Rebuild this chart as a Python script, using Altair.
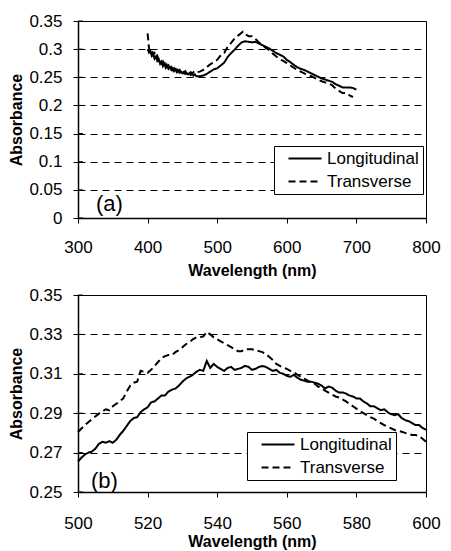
import altair as alt
import pandas as pd

series_names = ["Longitudinal", "Transverse"]

# ---- panel (a) ----
a_long_wl = [400,402,404,406,408,410,412,414,416,418,420,422,424,426,428,430,432,434,436,438,440,442,444,446,448,450,452,454,456,458,460,462,464,466,468,470,475,480,485,490,495,500,505,510,515,520,525,530,535,540,545,550,555,560,565,570,575,580,585,590,595,600,605,610,615,620,625,630,635,640,645,650,655,660,665,670,675,680,685,690,695,700]
a_long_ab = [.300,.294,.297,.288,.291,.283,.287,.279,.282,.274,.278,.270,.274,.267,.271,.265,.268,.263,.266,.261,.264,.259,.262,.258,.260,.257,.259,.256,.258,.255,.257,.254,.256,.253,.255,.252,.252,.253,.256,.260,.264,.266,.271,.276,.286,.293,.299,.306,.312,.314,.313,.312,.313,.310,.307,.304,.301,.297,.293,.290,.287,.281,.277,.272,.268,.265,.263,.260,.257,.254,.251,.248,.246,.244,.242,.238,.235,.232,.232,.232,.231,.228]
a_trans_wl = [400,401,402,404,406,408,410,412,414,416,418,420,422,424,426,428,430,432,434,436,438,440,442,444,446,448,450,452,454,456,458,460,462,464,466,468,470,475,480,485,490,495,500,505,510,515,520,525,530,535,537,540,545,550,555,560,565,570,575,580,585,590,595,600,605,610,615,620,625,630,635,640,645,650,655,660,665,670,675,680,685,690,695]
a_trans_ab = [.328,.315,.302,.296,.299,.290,.293,.285,.288,.280,.283,.275,.278,.271,.274,.268,.271,.265,.268,.263,.266,.261,.264,.260,.263,.259,.262,.258,.261,.257,.260,.257,.259,.256,.259,.257,.259,.260,.263,.268,.273,.277,.281,.289,.293,.304,.311,.319,.324,.329,.331,.327,.323,.323,.318,.312,.307,.302,.298,.292,.287,.282,.279,.275,.271,.267,.263,.260,.257,.254,.252,.249,.246,.243,.241,.239,.236,.230,.226,.222,.222,.218,.215]

# ---- panel (b) ----
b_long_wl = list(range(500, 601))
b_long_ab = [.2655,.2675,.2690,.2700,.2705,.2720,.2745,.2755,.2750,.2758,.2750,.2765,.2790,.2810,.2835,.2860,.2875,.2880,.2905,.2920,
             .2930,.2955,.2960,.2975,.2990,.2990,.3010,.3020,.3025,.3040,.3060,.3075,.3085,.3095,.3110,.3120,.3115,.3165,.3130,.3150,
             .3135,.3125,.3115,.3130,.3135,.3120,.3125,.3130,.3140,.3135,.3120,.3125,.3135,.3140,.3135,.3125,.3115,.3120,.3105,.3100,
             .3090,.3085,.3095,.3080,.3070,.3065,.3060,.3060,.3055,.3050,.3040,.3025,.3035,.3030,.3015,.3005,.3005,.3000,.2990,.2985,
             .2975,.2975,.2960,.2950,.2935,.2935,.2925,.2915,.2920,.2905,.2895,.2890,.2895,.2875,.2865,.2860,.2850,.2840,.2840,.2825,.2815]
b_trans_wl = [500,502,504,506,508,509,510,512,513,514,515,516,517,518,519,520,521,522,523,524,525,526,527,528,529,530,531,532,533,534,535,536,537,538,539,540,
              541,542,543,544,545,546,547,548,549,550,551,552,553,554,555,556,557,558,559,560,561,562,563,564,565,566,567,568,569,570,
              571,572,573,574,575,576,577,578,579,580,581,582,583,584,585,586,587,588,589,590,591,592,593,594,595,596,597,598,599,600]
b_trans_ab = [.2805,.2840,.2870,.2898,.2920,.2915,.2935,.2960,.2975,.3010,.3040,.3055,.3060,.3115,.3110,.3105,.3120,.3140,.3160,.3180,.3190,.3195,.3195,.3210,.3220,.3235,.3250,.3260,.3275,.3285,.3285,.3290,.3313,.3300,.3285,.3275,
              .3265,.3255,.3245,.3235,.3225,.3215,.3215,.3225,.3225,.3225,.3220,.3215,.3210,.3200,.3185,.3170,.3150,.3140,.3130,.3125,.3115,.3110,.3095,.3085,.3075,.3065,.3055,.3050,.3035,.3025,
              .3015,.3005,.2995,.2985,.2980,.2970,.2960,.2948,.2935,.2923,.2910,.2900,.2890,.2880,.2873,.2860,.2850,.2840,.2830,.2823,.2815,.2810,.2806,.2800,.2795,.2789,.2789,.2785,.2770,.2755]

a_xticks = [300, 400, 500, 600, 700, 800]
a_yticks = [0, 0.05, 0.1, 0.15, 0.2, 0.25, 0.3, 0.35]
b_xticks = [500, 520, 540, 560, 580, 600]
b_yticks = [0.25, 0.27, 0.29, 0.31, 0.33, 0.35]

FONT = "Liberation Sans"
W, H = 348, 197


def make_df(lwl, lab, twl, tab):
    rows = [{"wl": w, "abs": v, "series": series_names[0], "order": i} for i, (w, v) in enumerate(zip(lwl, lab))]
    rows += [{"wl": w, "abs": v, "series": series_names[1], "order": i} for i, (w, v) in enumerate(zip(twl, tab))]
    return pd.DataFrame(rows)


def panel(df, xdom, xticks, ydom, yticks, label, label_pos, lx, ly, pad_spaces, xlabpad, xtitlepad):
    xs = alt.Scale(domain=xdom, nice=False, zero=False)
    ys = alt.Scale(domain=ydom, nice=False, zero=False)
    xax = alt.Axis(values=xticks, grid=False, labelFlush=False, labelOverlap=False, title="Wavelength (nm)",
                   labelPadding=xlabpad, titlePadding=xtitlepad)
    yax = alt.Axis(values=yticks, format="~g", grid=True, labelFlush=False, labelOverlap=False, title="Absorbance")
    leg_kwargs = dict(
        title=None, orient="none", legendX=lx, legendY=ly,
        strokeColor="black", fillColor="white", padding=4, cornerRadius=0,
        labelFont=FONT, labelFontSize=17, labelColor="black", labelOffset=13.5,
        symbolType="M-2.75,0H2.75", symbolSize=144, symbolStrokeWidth=2,
        symbolStrokeColor="black", symbolFillColor="transparent", rowPadding=5, symbolOffset=18.5,
    )
    if pad_spaces:
        leg_kwargs["labelExpr"] = "datum.label + '" + "\u00a0" * pad_spaces + "'"
    lines = alt.Chart(df).mark_line(color="black", strokeWidth=2).encode(
        x=alt.X("wl:Q", scale=xs, axis=xax),
        y=alt.Y("abs:Q", scale=ys, axis=yax),
        strokeDash=alt.StrokeDash(
            "series:N",
            scale=alt.Scale(domain=series_names, range=[[1, 0], [7, 4]]),
            legend=alt.Legend(**leg_kwargs),
        ),
        order="order:Q",
    )
    tick_df = pd.DataFrame({"abs": yticks})
    inner_ticks = alt.Chart(tick_df).mark_rule(color="black", strokeWidth=1).encode(
        x=alt.value(0), x2=alt.value(5), y=alt.Y("abs:Q", scale=ys, axis=yax)
    )
    lab_df = pd.DataFrame({"wl": [label_pos[0]], "abs": [label_pos[1]], "t": [label]})
    txt = alt.Chart(lab_df).mark_text(font=FONT, fontSize=22, align="left", baseline="alphabetic", color="black").encode(
        x=alt.X("wl:Q", scale=xs, axis=xax), y=alt.Y("abs:Q", scale=ys, axis=yax), text="t:N"
    )
    return alt.layer(lines, inner_ticks, txt).properties(width=W, height=H)


top = panel(make_df(a_long_wl, a_long_ab, a_trans_wl, a_trans_ab), [300, 800], a_xticks, [0, 0.35], a_yticks,
            "(a)", (325.9, 0.0117), 196, 125, 0, 16.5, 7)
bottom = panel(make_df(b_long_wl, b_long_ab, b_trans_wl, b_trans_ab), [500, 600], b_xticks, [0.25, 0.35], b_yticks,
               "(b)", (503.7, 0.2518), 169, 137, 6, 18, 2)

chart = alt.vconcat(top, bottom, spacing=6).resolve_scale(strokeDash="independent").resolve_legend(
    strokeDash="independent"
).properties(padding={"left": 0, "top": 3, "right": 0, "bottom": 0}).configure_view(
    stroke="black", strokeWidth=1
).configure_axis(
    labelFont=FONT, labelFontSize=17, labelColor="black", labelPadding=11, labelOverlap=False,
    titleFont=FONT, titleFontSize=16, titleFontWeight="bold", titleColor="black",
    domainColor="black", domainWidth=1.5, tickColor="black", tickSize=5, tickWidth=1,
    gridColor="black", gridDash=[7, 5], gridWidth=1, gridOpacity=1,
).configure_axisY(titlePadding=4)

chart.save("out.html", embed_options={"renderer": "svg", "actions": False})
